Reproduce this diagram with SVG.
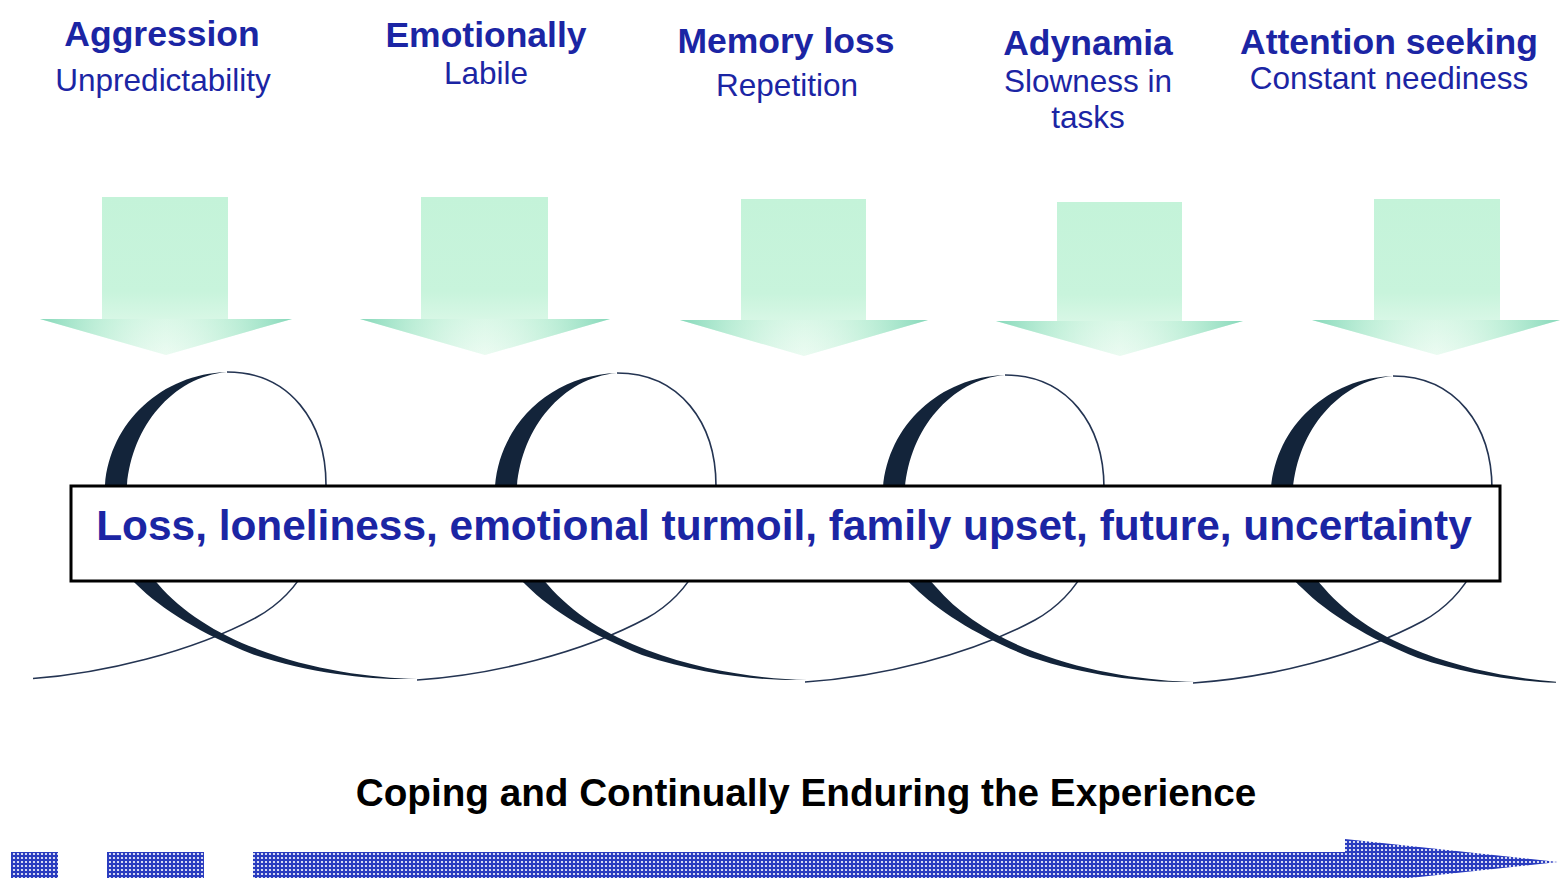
<svg xmlns="http://www.w3.org/2000/svg" xmlns:xlink="http://www.w3.org/1999/xlink" width="1562" height="878" viewBox="0 0 1562 878">
  <style>
    .title { font-family: "Liberation Sans", Arial, sans-serif; font-weight: bold; font-size: 35.5px; fill: #1b25a4; text-anchor: middle; }
    .sub { font-family: "Liberation Sans", Arial, sans-serif; font-size: 31.5px; fill: #1b25a4; text-anchor: middle; }
    .band { font-family: "Liberation Sans", Arial, sans-serif; font-weight: bold; font-size: 42.4px; fill: #1b25a4; text-anchor: middle; }
    .caption { font-family: "Liberation Sans", Arial, sans-serif; font-weight: bold; font-size: 38.7px; fill: #000; text-anchor: middle; }
    .thin { fill: none; stroke: #243452; stroke-width: 1.6; }
    .ribbon { fill: #13243a; }
    .arrow { fill: url(#mint); }
    .head { fill: url(#mintEdge); }
    .bar { fill: url(#dots); }
  </style>
  <defs>
    <linearGradient id="mint" x1="0" y1="0" x2="0" y2="1">
      <stop offset="0" stop-color="#c4f3d9"/>
      <stop offset="0.6" stop-color="#c8f4dc"/>
      <stop offset="1" stop-color="#ecfbf2"/>
    </linearGradient>
    <linearGradient id="mintEdge" x1="0" y1="0" x2="1" y2="0">
      <stop offset="0" stop-color="#86d8ba" stop-opacity="1"/>
      <stop offset="0.28" stop-color="#b6ecd3" stop-opacity="0.5"/>
      <stop offset="0.5" stop-color="#e6faef" stop-opacity="0.2"/>
      <stop offset="0.72" stop-color="#b6ecd3" stop-opacity="0.5"/>
      <stop offset="1" stop-color="#86d8ba" stop-opacity="1"/>
    </linearGradient>
    <pattern id="dots" width="4" height="4" patternUnits="userSpaceOnUse">
      <rect width="4" height="4" fill="#2a3cbf"/>
      <circle cx="2" cy="2" r="1.1" fill="#ffffff"/>
    </pattern>
    <clipPath id="page">
      <rect x="33" y="0" width="1523" height="878"/>
    </clipPath>
    <!-- one turn of the coiled ribbon, apex at 0,0 -->
    <g id="curl">
      <path class="thin" d="M-195,307 C-120,302 -30,280 35,245 C80,220 106,170 104,113 C104,50 68,0 5,0"/>
      <path class="ribbon" d="M5,0 C-60,2 -112,50 -117,113 C-121,160 -108,192 -86,212 C-60,238 -20,262 30,282 C90,302 150,308 195,307 C150,306 90,298 35,277 C-5,262 -40,240 -64,212 C-88,185 -98,160 -95,113 C-90,55 -50,5 5,0 Z"/>
    </g>
  </defs>

  <rect width="1562" height="878" fill="#ffffff"/>

  <!-- headings -->
  <g id="aggression">
    <text class="title" x="162" y="46">Aggression</text>
    <text class="sub" x="163" y="91">Unpredictability</text>
  </g>
  <g id="emotionally">
    <text class="title" x="486" y="47">Emotionally</text>
    <text class="sub" x="486" y="84">Labile</text>
  </g>
  <g id="memory-loss">
    <text class="title" x="786" y="53">Memory loss</text>
    <text class="sub" x="787" y="96">Repetition</text>
  </g>
  <g id="adynamia">
    <text class="title" x="1088" y="55">Adynamia</text>
    <text class="sub" x="1088" y="92">Slowness in</text>
    <text class="sub" x="1088" y="128">tasks</text>
  </g>
  <g id="attention-seeking">
    <text class="title" x="1389" y="54">Attention seeking</text>
    <text class="sub" x="1389" y="89">Constant neediness</text>
  </g>

  <!-- downward block arrows -->
  <g id="arrow-1">
    <path class="arrow" d="M102,197 H228 V319 H292 L166,355 L40,319 H102 Z"/>
    <path class="head" d="M40,319 H292 L166,355 Z"/>
  </g>
  <g id="arrow-2">
    <path class="arrow" d="M421,197 H548 V319 H610 L485,355 L360,319 H421 Z"/>
    <path class="head" d="M360,319 H610 L485,355 Z"/>
  </g>
  <g id="arrow-3">
    <path class="arrow" d="M741,199 H866 V320 H928 L804,356 L680,320 H741 Z"/>
    <path class="head" d="M680,320 H928 L804,356 Z"/>
  </g>
  <g id="arrow-4">
    <path class="arrow" d="M1057,202 H1182 V321 H1243 L1120,356 L996,321 H1057 Z"/>
    <path class="head" d="M996,321 H1243 L1120,356 Z"/>
  </g>
  <g id="arrow-5">
    <path class="arrow" d="M1374,199 H1500 V320 H1560 L1437,355 L1312,320 H1374 Z"/>
    <path class="head" d="M1312,320 H1560 L1437,355 Z"/>
  </g>

  <!-- coiled ribbon running under the band -->
  <g id="connectors" clip-path="url(#page)">
    <use xlink:href="#curl" transform="translate(222,372)"/>
    <use xlink:href="#curl" transform="translate(612,373)"/>
    <use xlink:href="#curl" transform="translate(1000,375)"/>
    <use xlink:href="#curl" transform="translate(1388,376)"/>
  </g>

  <!-- central band -->
  <g id="band">
    <rect x="71" y="486" width="1429" height="95" fill="#ffffff" stroke="#000000" stroke-width="3"/>
    <text class="band" x="784" y="540">Loss, loneliness, emotional turmoil, family upset, future, uncertainty</text>
  </g>

  <!-- caption and timeline arrow -->
  <g id="caption">
    <text class="caption" x="806" y="806">Coping and Continually Enduring the Experience</text>
  </g>
  <g id="timeline">
    <rect class="bar" x="11" y="852" width="47" height="30"/>
    <rect class="bar" x="107" y="852" width="97" height="30"/>
    <path class="bar" d="M253,852 H1345 V839 L1558,862 L1345,885 V882 H253 Z"/>
  </g>
</svg>
